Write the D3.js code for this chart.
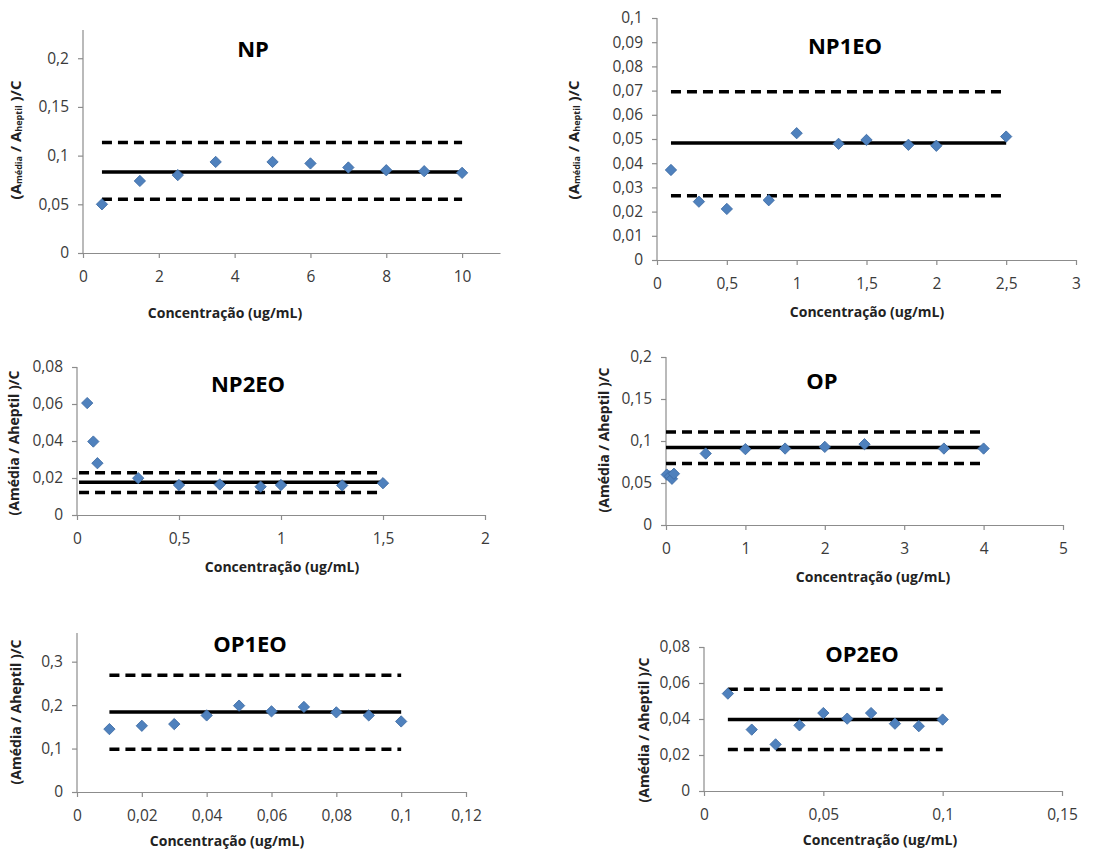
<!DOCTYPE html>
<html>
<head>
<meta charset="utf-8">
<script src="https://cdn.jsdelivr.net/npm/d3@7"></script>
<style>
  body { margin: 0; background: #fff; }
  svg { display: block; font-family: "Open Sans", sans-serif; }
</style>
</head>
<body>
<svg id="chart" width="1102" height="850"></svg>
<script>
// ---- data ----
const NP_x = [0.5, 1.5, 2.5, 3.5, 5, 6, 7, 8, 9, 10];
const NP_y = [0.050, 0.074, 0.080, 0.0935, 0.0935, 0.092, 0.0878, 0.085, 0.084, 0.0823];
const NP_lines = [0.0833, 0.1134, 0.0553];   // mean, upper, lower
const NP_xTicks = [0, 2, 4, 6, 8, 10];
const NP_yTicks = [0, 0.05, 0.1, 0.15, 0.2];

const NP1EO_x = [0.1, 0.3, 0.5, 0.8, 1.0, 1.3, 1.5, 1.8, 2.0, 2.5];
const NP1EO_y = [0.0372, 0.0241, 0.0211, 0.0247, 0.0524, 0.048, 0.0496, 0.0476, 0.0472, 0.051];
const NP1EO_lines = [0.0483, 0.0695, 0.0265];
const NP1EO_xTicks = [0, 0.5, 1, 1.5, 2, 2.5, 3];
const NP1EO_yTicks = [0, 0.01, 0.02, 0.03, 0.04, 0.05, 0.06, 0.07, 0.08, 0.09, 0.1];

const NP2EO_x = [0.05, 0.08, 0.1, 0.3, 0.5, 0.7, 0.9, 1.0, 1.3, 1.5];
const NP2EO_y = [0.0605, 0.0397, 0.028, 0.0199, 0.0162, 0.0165, 0.0153, 0.0162, 0.016, 0.0172];
const NP2EO_lines = [0.0177, 0.0229, 0.0121];
const NP2EO_xTicks = [0, 0.5, 1, 1.5, 2];
const NP2EO_yTicks = [0, 0.02, 0.04, 0.06, 0.08];

const OP_x = [0.01, 0.05, 0.075, 0.1, 0.5, 1, 1.5, 2, 2.5, 3.5, 4];
const OP_y = [0.060, 0.058, 0.055, 0.061, 0.0851, 0.0903, 0.091, 0.093, 0.0962, 0.091, 0.091];
const OP_lines = [0.0923, 0.1108, 0.0733];
const OP_xTicks = [0, 1, 2, 3, 4, 5];
const OP_yTicks = [0, 0.05, 0.1, 0.15, 0.2];

const OP1EO_x = [0.01, 0.02, 0.03, 0.04, 0.05, 0.06, 0.07, 0.08, 0.09, 0.1];
const OP1EO_y = [0.1448, 0.1524, 0.1563, 0.1763, 0.1988, 0.1856, 0.1958, 0.1833, 0.1763, 0.1624];
const OP1EO_lines = [0.184, 0.269, 0.0984];
const OP1EO_xTicks = [0, 0.02, 0.04, 0.06, 0.08, 0.1, 0.12];
const OP1EO_yTicks = [0, 0.1, 0.2, 0.3];

const OP2EO_x = [0.01, 0.02, 0.03, 0.04, 0.05, 0.06, 0.07, 0.08, 0.09, 0.1];
const OP2EO_y = [0.0541, 0.0341, 0.0259, 0.0365, 0.0433, 0.0402, 0.0433, 0.0374, 0.036, 0.0397];
const OP2EO_lines = [0.0397, 0.0565, 0.023];
const OP2EO_xTicks = [0, 0.05, 0.1, 0.15];
const OP2EO_yTicks = [0, 0.02, 0.04, 0.06, 0.08];

const X_TITLE = 'Concentração (ug/mL)';

// ---- layout (pixel boxes for each panel) ----
const panels = [
  { name: 'NP', xs: NP_x, ys: NP_y, lines: NP_lines, span: [0.5, 10], xTicks: NP_xTicks, yTicks: NP_yTicks,
    xMax: 11, yMax: 0.229, box: [83, 500, 30, 253], title: [253, 48], xt: [225, 312], yt: [15, 140], sub: true },
  { name: 'NP1EO', xs: NP1EO_x, ys: NP1EO_y, lines: NP1EO_lines, span: [0.1, 2.5], xTicks: NP1EO_xTicks, yTicks: NP1EO_yTicks,
    xMax: 3, yMax: 0.1, box: [657, 1076, 18, 260], title: [845, 45], xt: [867, 311], yt: [573, 140], sub: true },
  { name: 'NP2EO', xs: NP2EO_x, ys: NP2EO_y, lines: NP2EO_lines, span: [0.01, 1.5], xTicks: NP2EO_xTicks, yTicks: NP2EO_yTicks,
    xMax: 2, yMax: 0.08, box: [77, 485, 367, 515], title: [248, 383], xt: [282, 566], yt: [13, 443], sub: false },
  { name: 'OP', xs: OP_x, ys: OP_y, lines: OP_lines, span: [0, 4], xTicks: OP_xTicks, yTicks: OP_yTicks,
    xMax: 5, yMax: 0.2, box: [666, 1063, 357, 525], title: [822, 380], xt: [873, 576], yt: [603, 440], sub: false },
  { name: 'OP1EO', xs: OP1EO_x, ys: OP1EO_y, lines: OP1EO_lines, span: [0.01, 0.1], xTicks: OP1EO_xTicks, yTicks: OP1EO_yTicks,
    xMax: 0.12, yMax: 0.366, box: [77, 466, 633, 792], title: [250, 643], xt: [227, 840], yt: [15, 712], sub: false },
  { name: 'OP2EO', xs: OP2EO_x, ys: OP2EO_y, lines: OP2EO_lines, span: [0.01, 0.1], xTicks: OP2EO_xTicks, yTicks: OP2EO_yTicks,
    xMax: 0.15, yMax: 0.08, box: [704, 1062, 647, 791], title: [862, 653], xt: [880, 839], yt: [643, 730], sub: false },
];

const fmt = v => String(+v.toFixed(4)).replace('.', ',');
const svg = d3.select('#chart');

panels.forEach(p => {
  const [l, r, t, b] = p.box;
  const x = d3.scaleLinear().domain([0, p.xMax]).range([l, r]);
  const y = d3.scaleLinear().domain([0, p.yMax]).range([b, t]);
  const g = svg.append('g');

  // axes
  const ax = g.append('g').attr('transform', `translate(0,${b})`)
    .call(d3.axisBottom(x).tickValues(p.xTicks).tickFormat(fmt).tickSize(5).tickPadding(13).tickSizeOuter(0));
  const ay = g.append('g').attr('transform', `translate(${l},0)`)
    .call(d3.axisLeft(y).tickValues(p.yTicks).tickFormat(fmt).tickSize(5).tickPadding(9).tickSizeOuter(0));
  [ax, ay].forEach(a => {
    a.select('.domain').attr('stroke', '#8c8c8c').attr('stroke-width', 1.2);
    a.selectAll('.tick line').attr('stroke', '#8c8c8c').attr('stroke-width', 1.2);
    a.selectAll('.tick text').attr('font-size', 15.5).attr('fill', '#3a3a3a')
      .attr('font-family', '"Open Sans", sans-serif');
  });
  // y axis reaches the plot top even without a tick there
  ay.select('.domain').attr('d', `M0,${b}V${t}`);

  // mean and limit lines
  p.lines.forEach((v, i) => {
    g.append('line')
      .attr('x1', x(p.span[0])).attr('x2', x(p.span[1]))
      .attr('y1', y(v)).attr('y2', y(v))
      .attr('stroke', '#000')
      .attr('stroke-width', 3.5)
      .attr('stroke-dasharray', i === 0 ? null : '10,6');
  });

  // points
  const sym = d3.symbol().type(d3.symbolSquare).size(64);
  p.xs.forEach((xv, i) => {
    g.append('path')
      .attr('d', sym())
      .attr('transform', `translate(${x(xv)},${y(p.ys[i])}) rotate(45)`)
      .attr('fill', '#4f81bd')
      .attr('stroke', '#3c6aa3')
      .attr('stroke-width', 0.8);
  });

  // titles
  g.append('text')
    .attr('x', p.title[0]).attr('y', p.title[1])
    .attr('text-anchor', 'middle').attr('dominant-baseline', 'central')
    .attr('font-size', 22).attr('font-weight', 700).attr('fill', '#000')
    .text(p.name);

  g.append('text')
    .attr('x', p.xt[0]).attr('y', p.xt[1])
    .attr('text-anchor', 'middle').attr('dominant-baseline', 'central')
    .attr('font-size', 14).attr('font-weight', 700).attr('fill', '#222')
    .text(X_TITLE);

  const yl = g.append('text')
    .attr('transform', `translate(${p.yt[0]},${p.yt[1]}) rotate(-90)`)
    .attr('text-anchor', 'middle').attr('dominant-baseline', 'central')
    .attr('font-size', 14).attr('font-weight', 700).attr('fill', '#222');
  if (p.sub) {
    yl.append('tspan').attr('font-size', 15).text('(A');
    yl.append('tspan').attr('font-size', 9).attr('dy', 3).text('média');
    yl.append('tspan').attr('font-size', 15).attr('dy', -3).text(' / A');
    yl.append('tspan').attr('font-size', 9).attr('dy', 3).text('heptil');
    yl.append('tspan').attr('font-size', 15).attr('dy', -3).text(' )/C');
  } else {
    yl.text('(Amédia / Aheptil )/C');
  }
});
</script>
</body>
</html>
